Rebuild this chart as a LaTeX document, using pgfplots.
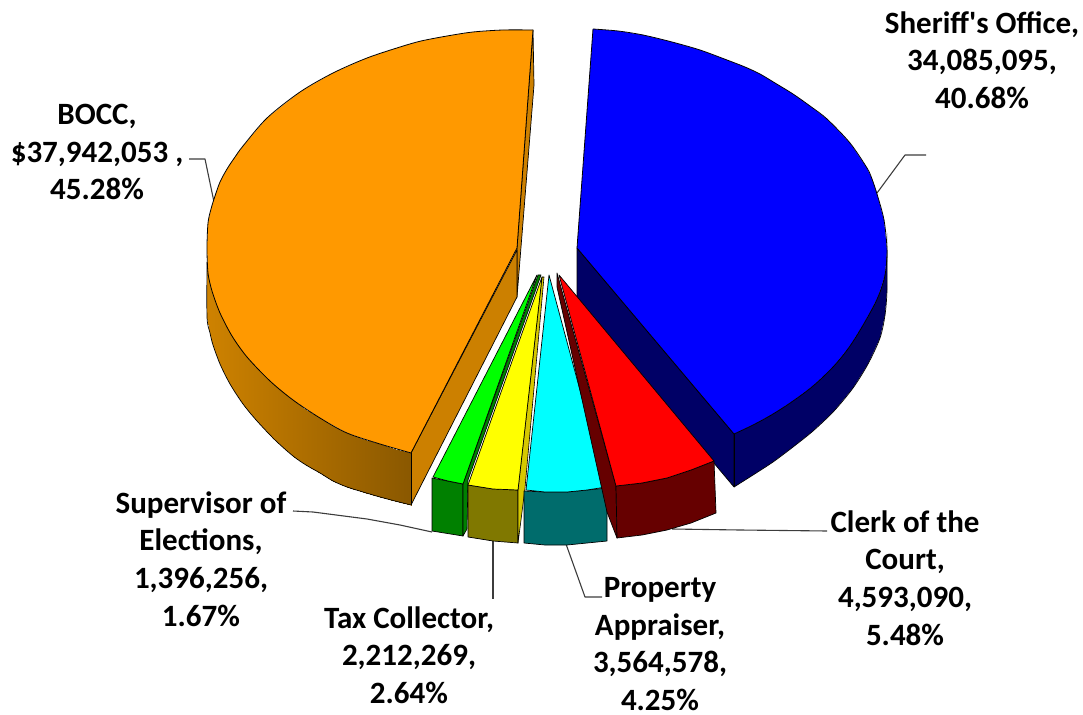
\documentclass[border=0pt]{standalone}
\usepackage{fontspec}
\setmainfont{Carlito}[Ligatures=TeXOff]
\usepackage{pgfplots}
\pgfplotsset{compat=1.18}
\definecolor{oTop}{RGB}{255,153,0}
\definecolor{oSide}{RGB}{204,128,0}
\definecolor{bTop}{RGB}{0,0,255}
\definecolor{bSide}{RGB}{0,0,102}
\definecolor{rTop}{RGB}{255,0,0}
\definecolor{rSide}{RGB}{102,0,0}
\definecolor{gTop}{RGB}{0,255,0}
\definecolor{gSide}{RGB}{0,128,0}
\definecolor{yTop}{RGB}{255,255,0}
\definecolor{ySide}{RGB}{128,120,0}
\definecolor{ySliver}{RGB}{214,200,0}
\definecolor{cTop}{RGB}{0,255,255}
\definecolor{cSide}{RGB}{0,108,108}
\definecolor{leader}{RGB}{60,60,60}
\newcommand{\lab}{\fontsize{31}{37.7}\selectfont\bfseries}
\begin{document}
\begin{tikzpicture}
\begin{axis}[
  width=1083pt,height=712pt,scale only axis,
  xmin=0,xmax=1083,ymin=0,ymax=712,y dir=reverse,
  axis lines=none,clip=false,
  every axis plot/.append style={line join=round},
]
\path (axis cs:0,0) rectangle (axis cs:1083,712);
% leader lines
\addplot[leader,line width=1.1pt] coordinates {(877,193)(905,155)(926,155)};
\addplot[leader,line width=1.1pt] coordinates {(189,159)(205,159)(214,202)};
\addplot[leader,line width=1.1pt] coordinates {(672,529)(740,530)(827,531)};
\addplot[leader,line width=1.1pt] coordinates {(566,544)(585,597)(602,597)};
\addplot[leader,line width=1.1pt] coordinates {(493,541)(493,599)};
\addplot[leader,line width=1.1pt] coordinates {(293,511)(313,512)(367,519)(400,525)(432,532)};
% blue slice
\addplot[fill=bSide,draw=black,line width=.7pt] coordinates {(577,248)(734,434)(734,487)(577,300)} -- cycle;
\addplot[fill=bSide,draw=none] coordinates {(887,233)(887,250)(885,275)(878,297)(866,320)(850,346)(833,367)(813,386)(793,401)(773,414)(753,425)(734,434)(734,487)(753,475)(773,462)(793,447)(813,431)(834,411)(853,388)(868,364)(880,338)(885,315)(887,290)} -- cycle;
\addplot[smooth,black,line width=.7pt] coordinates {(887,250)(887,290)(885,315)(880,338)(868,364)(853,388)(834,411)(813,431)(793,447)(773,462)(753,475)(734,487)};
\addplot[black,line width=.7pt] coordinates {(734,434)(734,487)};
\addplot[fill=bTop,draw=none] coordinates {(577,248)(593,29)(618,31)(643,35)(672,42)(700,50)(727,60)(745,67)(760,74)(775,83)(793,94)(810,106)(827,119)(850,143)(867,168)(872,179)(877,194)(884,220)(887,250)(885,275)(878,297)(866,320)(850,346)(833,367)(813,386)(793,401)(773,414)(753,425)(734,434)} -- cycle;
\addplot[smooth,black,line width=.8pt] coordinates {(593,29)(618,31)(643,35)(672,42)(700,50)(727,60)(745,67)(760,74)(775,83)(793,94)(810,106)(827,119)(850,143)(867,168)(872,179)(877,194)(884,220)(887,250)(885,275)(878,297)(866,320)(850,346)(833,367)(813,386)(793,401)(773,414)(753,425)(734,434)};
\addplot[black,line width=.8pt] coordinates {(593,29)(577,248)(734,434)};
% orange slice
\addplot[fill=oSide,draw=black,line width=.7pt] coordinates {(533,30)(534,85)(517,297)(517,248)} -- cycle;
\addplot[fill=oSide,draw=black,line width=.7pt] coordinates {(517,250)(517,297)(411,505)(411,453)} -- cycle;
\addplot[surf,shader=interp,mesh/rows=17,mesh/cols=2,point meta=x,
  colormap={ora}{rgb255=(206,130,0) rgb255=(138,88,0)}] coordinates {
 (207,262)(207,317)
 (210,283)(210,333)
 (213,294)(213,345)
 (220,313)(220,364)
 (230,332)(230,384)
 (243,351)(243,404)
 (257,368)(257,421)
 (275,385)(275,440)
 (293,400)(293,456)
 (306,410)(306,465)
 (320,418)(320,473)
 (333,426)(333,481)
 (347,433)(347,487)
 (363,439)(363,492)
 (380,444)(380,497)
 (395,449)(395,501)
 (411,453)(411,505)
};
\addplot[smooth,black,line width=.7pt] coordinates {(207,262)(207,317)(210,333)(213,345)(220,364)(230,384)(243,404)(257,421)(275,440)(293,456)(306,465)(320,473)(333,481)(347,487)(363,492)(380,497)(395,501)(411,505)};
\addplot[black,line width=.7pt] coordinates {(411,505)(411,453)};
\addplot[fill=oTop,draw=none] coordinates {(517,248)(533,30)(503,30)(473,32)(447,36)(421,41)(400,47)(367,58)(333,73)(300,92)(267,118)(243,146)(235,157)(227,169)(220,182)(215,196)(211,209)(208,223)(207,248)(208,273)(212,291)(220,313)(232,336)(247,357)(270,381)(293,400)(320,418)(347,433)(380,444)(411,453)} -- cycle;
\addplot[smooth,black,line width=.8pt] coordinates {(533,30)(503,30)(473,32)(447,36)(421,41)(400,47)(367,58)(333,73)(300,92)(267,118)(243,146)(235,157)(227,169)(220,182)(215,196)(211,209)(208,223)(207,248)(208,273)(212,291)(220,313)(232,336)(247,357)(270,381)(293,400)(320,418)(347,433)(380,444)(411,453)};
\addplot[black,line width=.8pt] coordinates {(533,30)(517,248)(411,453)};
% green slice
\addplot[fill=gSide,draw=black,line width=.7pt] coordinates {(432,478)(463,484)(463,536)(432,531)} -- cycle;
\addplot[fill=gSide,draw=black,line width=.6pt] coordinates {(538,275)(541,275)(468,480)(467,529)(463,536)(463,484)} -- cycle;
\addplot[fill=gTop,draw=black,line width=.7pt] coordinates {(537,275)(433,477)(448,481)(463,484)} -- cycle;
% yellow slice
\addplot[fill=ySide,draw=black,line width=.7pt] coordinates {(468,485)(493,489)(518,490)(518,543)(493,541)(468,537)} -- cycle;
\addplot[fill=ySliver,draw=black,line width=.6pt] coordinates {(542,277)(544,277)(525,488)(521,520)(518,543)(518,490)} -- cycle;
\addplot[fill=yTop,draw=black,line width=.7pt] coordinates {(542,277)(468,485)(493,489)(518,490)} -- cycle;
% cyan slice
\addplot[fill=cSide,draw=black,line width=.7pt] coordinates {(524,491)(545,492)(567,492)(607,488)(607,541)(567,545)(545,545)(524,543)} -- cycle;
\addplot[fill=cTop,draw=black,line width=.7pt] coordinates {(549,275)(526,490)(545,492)(567,492)(587,490)(606,487)} -- cycle;
% red slice
\addplot[fill=rSide,draw=black,line width=.7pt] coordinates {(557,273)(616,486)(617,538)(607,512)(557,287)} -- cycle;
\addplot[fill=rSide,draw=black,line width=.7pt] coordinates {(616,486)(642,483)(667,478)(691,470)(714,461)(716,513)(691,523)(667,530)(642,535)(617,538)} -- cycle;
\addplot[fill=rTop,draw=black,line width=.7pt] coordinates {(559,275)(616,486)(642,483)(667,478)(691,470)(714,461)} -- cycle;
% labels
\node[align=center,font=\lab] at (axis cs:982,60) {Sheriff's Office,\\34,085,095,\\40.68\%};
\node[align=center,font=\lab] at (axis cs:97,152) {BOCC,\\\$37,942,053 ,\\45.28\%};
\node[align=center,font=\lab] at (axis cs:201,559) {Supervisor of\\Elections,\\1,396,256,\\1.67\%};
\node[align=center,font=\lab] at (axis cs:409,655) {Tax Collector,\\2,212,269,\\2.64\%};
\node[align=center,font=\lab] at (axis cs:660,644) {Property\\Appraiser,\\3,564,578,\\4.25\%};
\node[align=center,font=\lab] at (axis cs:905,578) {Clerk of the\\Court,\\4,593,090,\\5.48\%};
\end{axis}
\end{tikzpicture}
\end{document}
